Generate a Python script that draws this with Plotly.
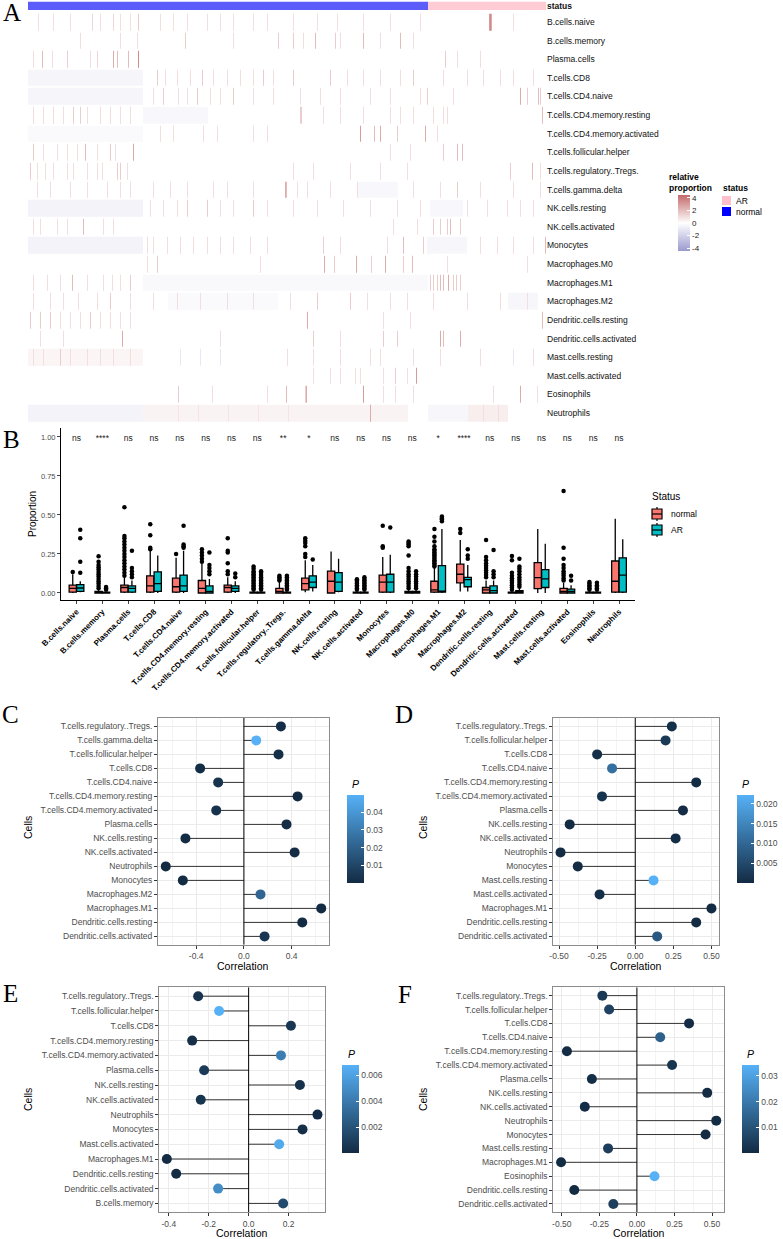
import plotly.graph_objects as go

W, H = 783, 1239


def px(x):
    return x / W


def py(y):
    return 1 - y / H


FONT = "Liberation Sans"
SERIF = "Liberation Serif"

# ---------------- panel A data ----------------
heat_rows = ["B.cells.naive", "B.cells.memory", "Plasma.cells", "T.cells.CD8", "T.cells.CD4.naive",
             "T.cells.CD4.memory.resting", "T.cells.CD4.memory.activated", "T.cells.follicular.helper",
             "T.cells.regulatory..Tregs.", "T.cells.gamma.delta", "NK.cells.resting", "NK.cells.activated",
             "Monocytes", "Macrophages.M0", "Macrophages.M1", "Macrophages.M2", "Dendritic.cells.resting",
             "Dendritic.cells.activated", "Mast.cells.resting", "Mast.cells.activated", "Eosinophils",
             "Neutrophils"]
n_normal = 400
n_ar = 118

# background blocks per row: (first column, last column, value)
heat_base = [
    [], [], [],
    [(0, 115, -0.45)],
    [(0, 115, -0.45)],
    [(115, 180, -0.3)],
    [(0, 115, -0.2)],
    [], [],
    [(330, 370, -0.3)],
    [(0, 115, -0.55), (402, 435, -0.3)],
    [],
    [(0, 115, -0.55), (399, 439, -0.35)],
    [],
    [(115, 400, -0.25)],
    [(140, 250, -0.2), (480, 510, -0.35)],
    [], [],
    [(0, 115, 0.3)],
    [], [],
    [(0, 115, -0.55), (115, 380, 0.35), (400, 440, -0.35), (440, 480, 0.5)],
]

# stripes per row: (column, value)
heat_stripes = [
    [(10, 1), (25, 1), (42, 1), (64, 1.2), (72, 1), (85, 1.2), (92, 1), (102, 1), (110, 1.5), (132, 1),
     (145, 1), (159, 1), (179, 1), (192, 1), (205, 1), (225, 1), (239, 1), (265, 1), (289, 1), (309, 1),
     (335, 1), (362, 1), (392, 1), (461, 3), (462, 3.5), (463, 2.5), (485, 1)],
    [(52, 1), (92, 1), (109, 1), (157, 1.5), (205, 1), (250, 1.5), (265, 1.5), (275, 1), (287, 2),
     (307, 1.5), (312, 1), (335, 2), (352, 1), (372, 2), (385, 1)],
    [(5, 1), (14, 2), (24, 1), (39, 1.5), (62, 1), (69, 1.2), (85, 2.5), (89, 2), (100, 2), (110, 3.5),
     (417, 1.5), (429, 1), (452, 1)],
    [(129, 1.5), (137, 1), (149, 1), (162, 1), (174, 1.5), (185, 1), (199, 1), (212, 1), (225, 1),
     (235, 1.5), (245, 1), (265, 1.5), (302, 1.5), (319, 1), (335, 1), (352, 1), (372, 1), (385, 1.5),
     (415, 1), (439, 1), (455, 1), (472, 1), (485, 1), (505, 1)],
    [(125, 1), (135, 1.5), (150, 1), (159, 1), (169, 1.5), (182, 1), (192, 1), (205, 1.5), (225, 1),
     (245, 1), (272, 1), (292, 1), (312, 1), (342, 1), (362, 1), (392, 1), (399, 1.5), (425, 1),
     (492, 2.5), (499, 1.5), (510, 2), (512, 1.5)],
    [(5, 1), (15, 1), (25, 1), (35, 1), (45, 1.5), (52, 1.5), (59, 1), (72, 1), (82, 1), (92, 1),
     (102, 1), (272, 1.5), (273, 1.5), (295, 1), (312, 1), (335, 1), (362, 1), (372, 1), (385, 1),
     (405, 1), (415, 1), (419, 1), (514, 2)],
    [(132, 1), (145, 1), (175, 1), (189, 1), (225, 1), (239, 1), (332, 3), (346, 2), (352, 2.5),
     (369, 1.5), (397, 2.5), (409, 1)],
    [(5, 1.5), (15, 1), (29, 1), (39, 1), (49, 1), (57, 2), (69, 1), (82, 1.5), (87, 1), (105, 2.5),
     (362, 1), (382, 1), (415, 1.5), (429, 2), (434, 2)],
    [(2, 1.5), (9, 1), (17, 1), (25, 1), (39, 1), (45, 1), (59, 1), (69, 1), (74, 1), (89, 1.5),
     (92, 1.5), (99, 1), (265, 1), (285, 1), (322, 1), (352, 1), (379, 1), (482, 1.5), (504, 2),
     (512, 1)],
    [(9, 1), (22, 1), (42, 1), (59, 1), (79, 1), (92, 1), (102, 1), (125, 1), (142, 1), (159, 1),
     (185, 1), (199, 1), (225, 1), (257, 2.5), (258, 2), (269, 1), (279, 1), (302, 1), (329, 1),
     (385, 1), (412, 1), (429, 1.5), (452, 1), (485, 1), (512, 1)],
    [(122, 1), (135, 1), (149, 1), (159, 1.5), (179, 1.5), (192, 1), (205, 1), (225, 1.5), (239, 1),
     (265, 1), (289, 1), (315, 1), (342, 1), (369, 1), (392, 1), (439, 1), (459, 1), (479, 1),
     (492, 1), (505, 1)],
    [(5, 1), (12, 1), (29, 1), (39, 1), (55, 2), (75, 1), (85, 1), (365, 1), (389, 1), (405, 1.5),
     (412, 1.5), (419, 1.5), (422, 2), (432, 1.5)],
    [(119, 1), (125, 1), (139, 1), (152, 1), (165, 1), (179, 1), (192, 1), (205, 1), (222, 1),
     (239, 1), (295, 1.5), (312, 1), (359, 1), (375, 2), (395, 1.5), (452, 1), (469, 1), (485, 1),
     (505, 1), (517, 2)],
    [(119, 1), (129, 1.5), (232, 1), (296, 2.5), (306, 1.5), (328, 2.5), (343, 1.5), (357, 2.5),
     (375, 1.5), (384, 2), (419, 1), (499, 1)],
    [(5, 1), (19, 1), (32, 1), (44, 2), (59, 1), (75, 1), (84, 1), (92, 1), (102, 1.5), (402, 1.5),
     (405, 1.5), (409, 1.5), (412, 2), (415, 2), (420, 2.5), (425, 1.5), (428, 1.5), (432, 1.5)],
    [(5, 1), (22, 1), (35, 1), (50, 1), (69, 1), (82, 1.5), (102, 1), (125, 1), (149, 1), (172, 1),
     (199, 1), (225, 1), (262, 1), (289, 1.5), (322, 1.5), (339, 1), (362, 1), (379, 1), (405, 1),
     (439, 1), (472, 1), (499, 1)],
    [(2, 1.5), (12, 1.5), (22, 1.5), (32, 1), (42, 1), (52, 1), (62, 1.5), (72, 1), (82, 1), (92, 1),
     (102, 1), (279, 2.5), (355, 1), (382, 1), (514, 2)],
    [(12, 1), (35, 1), (94, 2.5), (192, 1), (285, 1.5), (312, 1), (355, 1.5), (369, 1.5), (412, 2.5),
     (415, 2), (432, 2.5)],
    [(5, 1), (15, 1), (32, 1.5), (42, 1), (59, 1), (72, 1), (85, 1), (102, 1), (152, -1), (172, -1),
     (192, -1), (259, 1), (285, 1), (312, 1), (342, 1), (352, 1), (385, 1), (412, 1), (452, 1),
     (485, -1), (505, 1)],
    [(285, 1), (302, 1), (312, 1), (327, 1), (332, 1), (355, 1), (367, 1.5), (379, 1), (388, 3)],
    [(150, 1.5), (184, 1), (239, 1), (258, 2), (277, 1.5), (278, 2.5), (335, 3), (355, 1), (367, 1),
     (385, 1), (465, 1), (492, 2.5), (509, 1)],
    [(342, 2.5), (150, 0.8), (170, 0.8), (200, 0.8), (230, 0.8), (260, 0.8), (455, 1), (470, 1)],
]

# ---------------- panel B data ----------------
box_cats = heat_rows
sig_labels = ["ns", "****", "ns", "ns", "ns", "ns", "ns", "ns", "**", "*", "ns", "ns", "ns", "ns", "*",
              "****", "ns", "ns", "ns", "ns", "ns", "ns"]

normal_low = [0, 0, 0, 0, 0, 0, 0, 0, 0, 0.005, 0, 0, 0, 0, 0, 0.01, 0, 0, 0, 0, 0, 0]
normal_q1 = [0.005, 0, 0.005, 0.005, 0.005, 0, 0.005, 0, 0, 0.02, 0, 0, 0.005, 0, 0.005, 0.065, 0, 0,
             0.028, 0, 0, 0.005]
normal_med = [0.03, 0.002, 0.035, 0.045, 0.04, 0.03, 0.035, 0.001, 0.01, 0.06, 0.075, 0.001, 0.07, 0.002,
              0.02, 0.12, 0.02, 0.001, 0.098, 0.01, 0.001, 0.075]
normal_q3 = [0.05, 0.01, 0.05, 0.11, 0.095, 0.08, 0.05, 0.005, 0.03, 0.095, 0.14, 0.005, 0.115, 0.01,
             0.075, 0.185, 0.035, 0.005, 0.195, 0.03, 0.005, 0.205]
normal_high = [0.12, 0.02, 0.1, 0.27, 0.225, 0.19, 0.1, 0.01, 0.07, 0.21, 0.265, 0.01, 0.23, 0.02, 0.16,
               0.34, 0.08, 0.01, 0.41, 0.065, 0.01, 0.475]
normal_out = [
    [0.135],
    [0.03, 0.045, 0.06, 0.075, 0.09, 0.105, 0.12, 0.135, 0.15, 0.165, 0.18, 0.2, 0.235],
    [0.11, 0.13, 0.15, 0.17, 0.19, 0.21, 0.23, 0.25, 0.27, 0.29, 0.31, 0.33, 0.35, 0.365, 0.55],
    [0.28, 0.29, 0.37, 0.44],
    [0.25],
    [0.2, 0.22, 0.24, 0.26, 0.28],
    [0.12, 0.14, 0.19, 0.26, 0.27, 0.35],
    [0.02, 0.03, 0.04, 0.05, 0.06, 0.07, 0.08, 0.09, 0.1, 0.11, 0.12, 0.13, 0.14, 0.155, 0.17],
    [0.08, 0.09, 0.1, 0.11],
    [0.23, 0.25, 0.3, 0.32, 0.335, 0.35],
    [],
    [0.02, 0.03, 0.04, 0.05, 0.06, 0.07, 0.08, 0.088],
    [0.29, 0.3, 0.43],
    [0.03, 0.045, 0.06, 0.075, 0.09, 0.105, 0.12, 0.14, 0.16, 0.24, 0.3, 0.31, 0.32, 0.33],
    [0.17, 0.18, 0.19, 0.2, 0.21, 0.22, 0.23, 0.24, 0.25, 0.26, 0.27, 0.28, 0.3, 0.33, 0.36, 0.41],
    [0.385, 0.41],
    [0.1, 0.115, 0.13, 0.145, 0.16, 0.175, 0.19, 0.21, 0.23, 0.34],
    [0.02, 0.035, 0.05, 0.065, 0.08, 0.095, 0.11, 0.13, 0.21, 0.237],
    [],
    [0.08, 0.095, 0.11, 0.125, 0.14, 0.16, 0.18, 0.22, 0.29, 0.654],
    [0.02, 0.03, 0.04, 0.05, 0.06, 0.07],
    [],
]

ar_low = [0.005, 0, 0, 0, 0, 0, 0, 0, 0, 0.01, 0.005, 0, 0, 0, 0, 0.01, 0, 0, 0, 0, 0, 0]
ar_q1 = [0.01, 0, 0.005, 0.01, 0.01, 0, 0.01, 0, 0, 0.035, 0.01, 0, 0.005, 0, 0.005, 0.04, 0, 0, 0.035,
         0, 0, 0.005]
ar_med = [0.032, 0.001, 0.03, 0.06, 0.045, 0.01, 0.03, 0.001, 0.001, 0.07, 0.07, 0.001, 0.07, 0.002, 0.01,
          0.085, 0.015, 0.005, 0.09, 0.01, 0.001, 0.115]
ar_q3 = [0.053, 0.005, 0.045, 0.135, 0.115, 0.045, 0.045, 0.005, 0.005, 0.11, 0.13, 0.005, 0.12, 0.01,
         0.175, 0.1, 0.045, 0.015, 0.15, 0.025, 0.005, 0.225]
ar_high = [0.075, 0.01, 0.08, 0.24, 0.27, 0.09, 0.075, 0.01, 0.01, 0.18, 0.22, 0.01, 0.245, 0.02, 0.41,
           0.18, 0.08, 0.03, 0.315, 0.05, 0.01, 0.345]
ar_out = [
    [0.13, 0.2, 0.35, 0.405],
    [0.02, 0.03, 0.038],
    [0.1, 0.12, 0.14, 0.16, 0.27],
    [],
    [0.29, 0.3, 0.31, 0.43],
    [0.12, 0.14, 0.16, 0.18, 0.26],
    [0.1, 0.125],
    [0.02, 0.03, 0.04, 0.05, 0.06, 0.07, 0.08, 0.09, 0.1, 0.115, 0.13, 0.14],
    [0.02, 0.03, 0.04, 0.05, 0.06, 0.07, 0.08, 0.09, 0.1, 0.11],
    [0.215],
    [],
    [0.02, 0.03, 0.04, 0.05, 0.06, 0.07, 0.08, 0.09, 0.1],
    [0.42],
    [0.03, 0.045, 0.06, 0.075, 0.09, 0.105, 0.12, 0.14],
    [0.46, 0.47, 0.475, 0.48, 0.49],
    [0.22, 0.24, 0.28],
    [0.1, 0.12, 0.14, 0.275],
    [0.04, 0.055, 0.07, 0.085, 0.1, 0.12, 0.14, 0.155, 0.17, 0.22],
    [],
    [0.08, 0.11],
    [0.02, 0.03, 0.04, 0.05, 0.065],
    [],
]
prop_ticks = [0, 0.25, 0.5, 0.75, 1.0]
prop_ticktext = ["0.00", "0.25", "0.50", "0.75", "1.00"]

# ---------------- panels C-F data ----------------
c_cells = ["T.cells.regulatory..Tregs.", "T.cells.gamma.delta", "T.cells.follicular.helper", "T.cells.CD8",
           "T.cells.CD4.naive", "T.cells.CD4.memory.resting", "T.cells.CD4.memory.activated", "Plasma.cells",
           "NK.cells.resting", "NK.cells.activated", "Neutrophils", "Monocytes", "Macrophages.M2",
           "Macrophages.M1", "Dendritic.cells.resting", "Dendritic.cells.activated"]
c_corr = [0.31, 0.103, 0.29, -0.367, -0.216, 0.45, -0.232, 0.357, -0.49, 0.425, -0.655, -0.512, 0.139,
          0.648, 0.489, 0.173]
c_p = [0.0012, 0.0497, 0.0015, 0.0008, 0.003, 0.0003, 0.0025, 0.0006, 0.0002, 0.0004, 0.00001, 0.0002,
       0.022, 0.00001, 0.0002, 0.004]

d_cells = ["T.cells.regulatory..Tregs.", "T.cells.follicular.helper", "T.cells.CD8", "T.cells.CD4.naive",
           "T.cells.CD4.memory.resting", "T.cells.CD4.memory.activated", "Plasma.cells", "NK.cells.resting",
           "NK.cells.activated", "Neutrophils", "Monocytes", "Mast.cells.resting", "Mast.cells.activated",
           "Macrophages.M1", "Dendritic.cells.resting", "Dendritic.cells.activated"]
d_corr = [0.24, 0.199, -0.25, -0.152, 0.40, -0.218, 0.313, -0.43, 0.265, -0.49, -0.377, 0.12, -0.234,
          0.50, 0.40, 0.144]
d_p = [0.0008, 0.0025, 0.0007, 0.0115, 0.00002, 0.0015, 0.0002, 0.00003, 0.0004, 0.00001, 0.00005, 0.0222,
       0.0006, 0.00001, 0.00002, 0.0075]

e_cells = ["T.cells.regulatory..Tregs.", "T.cells.follicular.helper", "T.cells.CD8",
           "T.cells.CD4.memory.resting", "T.cells.CD4.memory.activated", "Plasma.cells", "NK.cells.resting",
           "NK.cells.activated", "Neutrophils", "Monocytes", "Mast.cells.activated", "Macrophages.M1",
           "Dendritic.cells.resting", "Dendritic.cells.activated", "B.cells.memory"]
e_corr = [-0.253, -0.148, 0.212, -0.283, 0.162, -0.223, 0.257, -0.24, 0.345, 0.27, 0.153, -0.41, -0.363,
          -0.153, 0.173]
e_p = [0.0004, 0.0068, 0.0006, 0.0002, 0.0042, 0.0008, 0.0003, 0.0005, 0.00003, 0.0002, 0.0064, 0.00001,
       0.00002, 0.005, 0.0016]

f_cells = ["T.cells.regulatory..Tregs.", "T.cells.follicular.helper", "T.cells.CD8", "T.cells.CD4.naive",
           "T.cells.CD4.memory.resting", "T.cells.CD4.memory.activated", "Plasma.cells", "NK.cells.resting",
           "NK.cells.activated", "Neutrophils", "Monocytes", "Mast.cells.resting", "Macrophages.M1",
           "Eosinophils", "Dendritic.cells.resting", "Dendritic.cells.activated"]
f_corr = [-0.23, -0.185, 0.347, 0.155, -0.466, 0.234, -0.30, 0.468, -0.347, 0.528, 0.457, -0.192, -0.505,
          0.117, -0.417, -0.157]
f_p = [0.0035, 0.006, 0.0003, 0.0135, 0.00002, 0.0025, 0.0008, 0.00002, 0.0003, 0.00001, 0.00002, 0.0045,
       0.00001, 0.0342, 0.00004, 0.005]

c_xticks, c_xtext = [-0.4, 0.0, 0.4], ["-0.4", "0.0", "0.4"]
d_xticks, d_xtext = [-0.5, -0.25, 0.0, 0.25, 0.5], ["-0.50", "-0.25", "0.00", "0.25", "0.50"]
e_xticks, e_xtext = [-0.4, -0.2, 0.0, 0.2], ["-0.4", "-0.2", "0.0", "0.2"]
f_xticks, f_xtext = d_xticks, d_xtext
c_pticks, c_ptext = [0.01, 0.02, 0.03, 0.04], ["0.01", "0.02", "0.03", "0.04"]
d_pticks, d_ptext = [0.005, 0.010, 0.015, 0.020], ["0.005", "0.010", "0.015", "0.020"]
e_pticks, e_ptext = [0.002, 0.004, 0.006], ["0.002", "0.004", "0.006"]
f_pticks, f_ptext = [0.01, 0.02, 0.03], ["0.01", "0.02", "0.03"]

# ---------------- build figure ----------------
fig = go.Figure()

n_cols = n_normal + n_ar
z = []
for base, stripes in zip(heat_base, heat_stripes):
    row = [0.0] * n_cols
    for a, b, v in base:
        for k in range(a, min(b, n_cols)):
            row[k] = v
    for col, v in stripes:
        row[col] = v
    z.append(row)

heat_scale = [[0, "#9a9ad0"], [0.5, "#ffffff"], [1, "#c46a6a"]]
fig.add_trace(go.Heatmap(
    z=z, x=list(range(n_cols)), y=heat_rows, zmin=-4.45, zmax=4.45, colorscale=heat_scale, ygap=2,
    xaxis="x", yaxis="y", hoverinfo="skip",
    colorbar=dict(x=px(678), xanchor="left", y=py(195), yanchor="top", len=56, lenmode="pixels",
                  thickness=12, thicknessmode="pixels", outlinewidth=0, xpad=0, ypad=0,
                  tickvals=[4, 2, 0, -2, -4], ticktext=["4", "2", "0", "-2", "-4"],
                  ticks="inside", tickcolor="white", ticklen=3,
                  tickfont=dict(family=FONT, size=8, color="#222"))))

status_z = [[0] * n_normal + [1] * n_ar]
fig.add_trace(go.Heatmap(
    z=status_z, x=list(range(n_cols)), y=["status"], zmin=0, zmax=1, xgap=0.15,
    colorscale=[[0, "#4040fa"], [0.5, "#4040fa"], [0.5, "#ffc4cf"], [1, "#ffc4cf"]],
    showscale=False, xaxis="x2", yaxis="y2", hoverinfo="skip"))

# panel B boxes
pos_n = [i + 1 - 0.145 for i in range(len(box_cats))]
pos_a = [i + 1 + 0.145 for i in range(len(box_cats))]
for pos, low, q1, med, q3, high, outs, col in [
        (pos_n, normal_low, normal_q1, normal_med, normal_q3, normal_high, normal_out, "#F8766D"),
        (pos_a, ar_low, ar_q1, ar_med, ar_q3, ar_high, ar_out, "#00BFC4")]:
    fig.add_trace(go.Box(x=pos, q1=q1, median=med, q3=q3, lowerfence=low, upperfence=high,
                         fillcolor=col, line=dict(color="black", width=1.3), width=0.28, whiskerwidth=0,
                         xaxis="x3", yaxis="y3", showlegend=False, hoverinfo="skip"))
    ox, oy = [], []
    for p, vals in zip(pos, outs):
        ox += [p] * len(vals)
        oy += vals
    fig.add_trace(go.Scatter(x=ox, y=oy, mode="markers", marker=dict(color="black", size=4.5),
                             xaxis="x3", yaxis="y3", showlegend=False, hoverinfo="skip"))

fig.add_trace(go.Scatter(x=list(range(1, len(box_cats) + 1)), y=[0.985] * len(box_cats), text=sig_labels,
                         mode="text", textfont=dict(family=FONT, size=8.5, color="#222"),
                         xaxis="x3", yaxis="y3", showlegend=False, hoverinfo="skip"))

# panels C-F
lolli = [
    ("4", c_cells, c_corr, c_p, c_pticks, c_ptext, 346.7, 795),
    ("5", d_cells, d_corr, d_p, d_pticks, d_ptext, 736.7, 795),
    ("6", e_cells, e_corr, e_p, e_pticks, e_ptext, 342.3, 1065),
    ("7", f_cells, f_corr, f_p, f_pticks, f_ptext, 741.7, 1065),
]
for ax, cells, corr, pv, pticks, ptext, cbx, cby in lolli:
    n = len(cells)
    ypos = [n - i for i in range(n)]
    sx, sy = [], []
    for yy, cc in zip(ypos, corr):
        sx += [0, cc, None]
        sy += [yy, yy, None]
    fig.add_trace(go.Scatter(x=sx, y=sy, mode="lines", line=dict(color="#333333", width=1),
                             xaxis="x" + ax, yaxis="y" + ax, showlegend=False, hoverinfo="skip"))
    fig.add_trace(go.Scatter(x=[0, 0], y=[0.4, n + 0.6], mode="lines", line=dict(color="black", width=1),
                             xaxis="x" + ax, yaxis="y" + ax, showlegend=False, hoverinfo="skip"))
    fig.add_trace(go.Scatter(
        x=corr, y=ypos, mode="markers", xaxis="x" + ax, yaxis="y" + ax, showlegend=False, hoverinfo="skip",
        marker=dict(size=10, color=pv, cmin=min(pv), cmax=max(pv),
                    colorscale=[[0, "#132B43"], [1, "#56B1F7"]],
                    colorbar=dict(x=px(cbx), xanchor="left", y=py(cby), yanchor="top", len=88,
                                  lenmode="pixels", thickness=17, thicknessmode="pixels", outlinewidth=0,
                                  xpad=0, ypad=0, tickvals=pticks, ticktext=ptext,
                                  ticks="inside", tickcolor="white", ticklen=3,
                                  tickfont=dict(family=FONT, size=8.5, color="#4D4D4D")))))

layout = dict(
    width=W, height=H, margin=dict(l=0, r=0, t=0, b=0, pad=0, autoexpand=False),
    paper_bgcolor="white", plot_bgcolor="white",
    font=dict(family=FONT, color="black"),
    xaxis=dict(domain=[px(28), px(546)], range=[-0.5, n_cols - 0.5], visible=False, anchor="y"),
    yaxis=dict(domain=[py(422.3), py(12.7)], autorange="reversed", side="right", showgrid=False,
               zeroline=False, ticks="", anchor="x", tickfont=dict(family=FONT, size=8.5, color="#111")),
    xaxis2=dict(domain=[px(28), px(546)], range=[-0.5, n_cols - 0.5], visible=False, anchor="y2"),
    yaxis2=dict(domain=[py(10), py(1.5)], side="right", showgrid=False, zeroline=False, ticks="",
                anchor="x2", tickfont=dict(family=FONT, size=8.5, color="#111", weight="bold")),
    xaxis3=dict(domain=[px(61), px(634.5)], range=[0.4, len(box_cats) + 0.6], showgrid=False,
                zeroline=False, showline=True, linecolor="black", linewidth=1, ticks="outside", ticklen=3,
                anchor="y3", tickvals=list(range(1, len(box_cats) + 1)), ticktext=box_cats, tickangle=-45,
                tickfont=dict(family=FONT, size=8, color="black", weight="bold")),
    yaxis3=dict(domain=[py(600), py(428)], range=[-0.045, 1.057], showgrid=False, zeroline=False,
                showline=True, linecolor="black", linewidth=1, ticks="outside", ticklen=3, anchor="x3",
                tickvals=prop_ticks, ticktext=prop_ticktext,
                tickfont=dict(family=FONT, size=7.5, color="#4D4D4D")),
)

lolli_dom = {
    "4": ([158, 329], [718, 944.8], c_xticks, c_xtext),
    "5": ([553, 719], [718, 944.8], d_xticks, d_xtext),
    "6": ([159.3, 325], [987.3, 1212.3], e_xticks, e_xtext),
    "7": ([553.3, 724], [987.3, 1212.3], f_xticks, f_xtext),
}
for ax, cells, corr, pv, pticks, ptext, cbx, cby in lolli:
    (x0, x1), (y0, y1), xt, xtt = lolli_dom[ax]
    n = len(cells)
    lo, hi = min(min(corr), 0), max(max(corr), 0)
    pad = (hi - lo) * 0.05
    step = xt[1] - xt[0]
    minor = [v + step / 2 for v in [xt[0] - step] + xt]
    layout["xaxis" + ax] = dict(
        domain=[px(x0), px(x1)], range=[lo - pad, hi + pad], anchor="y" + ax, showgrid=True,
        gridcolor="#EBEBEB", gridwidth=1, zeroline=False, showline=True, mirror=True, linecolor="#8c8c8c",
        linewidth=1, ticks="outside", ticklen=3, tickcolor="#333", tickvals=xt, ticktext=xtt,
        tickfont=dict(family=FONT, size=8.5, color="#4D4D4D"),
        minor=dict(tickvals=minor, showgrid=True, gridcolor="#F4F4F4", gridwidth=0.6, ticks=""))
    layout["yaxis" + ax] = dict(
        domain=[py(y1), py(y0)], range=[0.4, n + 0.6], anchor="x" + ax, showgrid=True, gridcolor="#EBEBEB",
        gridwidth=1, zeroline=False, showline=True, mirror=True, linecolor="#8c8c8c", linewidth=1,
        ticks="outside", ticklen=3, tickcolor="#333", tickvals=[n - i for i in range(n)], ticktext=cells,
        tickfont=dict(family=FONT, size=8.5, color="#4D4D4D"))

fig.update_layout(**layout)

ann = []


def text(x, y, s, size, **kw):
    d = dict(x=px(x), y=py(y), xref="paper", yref="paper", text=s, showarrow=False,
             xanchor="center", yanchor="middle",
             font=dict(family=kw.pop("family", FONT), size=size, color=kw.pop("color", "black")))
    d.update(kw)
    ann.append(d)


# panel letters
for letter, lx, ly in [("A", 12, 13), ("B", 11, 440), ("C", 10, 714), ("D", 404, 714),
                       ("E", 10, 993), ("F", 405, 994)]:
    text(lx, ly, letter, 25, family=SERIF)

# panel A legends
text(667, 177, "<b>relative</b>", 8.5, xanchor="left")
text(667, 188, "<b>proportion</b>", 8.5, xanchor="left")
text(721, 188, "<b>status</b>", 8.5, xanchor="left")
text(734, 201, "AR", 8.5, xanchor="left")
text(734, 212, "normal", 8.5, xanchor="left")

# panel B legend / title
text(32, 514, "Proportion", 10, textangle=-90)
text(650, 497, "Status", 10, xanchor="left")
text(669, 514, "normal", 8.5, xanchor="left")
text(669, 530, "AR", 8.5, xanchor="left")

# panels C-F titles
for cx, cy in [(28, 828), (423, 828), (28, 1100), (423, 1100)]:
    text(cx, cy, "Cells", 10.5, textangle=-90)
for cx, cy in [(243.5, 966), (636, 966), (242, 1233), (638.6, 1233)]:
    text(cx, cy, "Correlation", 10.5)
for cx, cy in [(355, 784), (745, 784), (351, 1054), (750, 1054)]:
    text(cx, cy, "<i>P</i>", 10.5)

shapes = [
    dict(type="rect", xref="paper", yref="paper", x0=px(722), x1=px(731), y0=py(205), y1=py(196),
         fillcolor="#ffc0cb", line=dict(width=0)),
    dict(type="rect", xref="paper", yref="paper", x0=px(722), x1=px(731), y0=py(216), y1=py(207),
         fillcolor="#0000ff", line=dict(width=0)),
]
for cy, col in [(514, "#F8766D"), (530, "#00BFC4")]:
    shapes.append(dict(type="line", xref="paper", yref="paper", x0=px(657), x1=px(657), y0=py(cy + 7),
                       y1=py(cy - 7), line=dict(color="black", width=1.2)))
    shapes.append(dict(type="rect", xref="paper", yref="paper", x0=px(652), x1=px(662), y0=py(cy + 5),
                       y1=py(cy - 5), fillcolor=col, line=dict(color="black", width=1.2)))
    shapes.append(dict(type="line", xref="paper", yref="paper", x0=px(652), x1=px(662), y0=py(cy),
                       y1=py(cy), line=dict(color="black", width=1.2)))

fig.update_layout(annotations=ann, shapes=shapes)
fig.write_html("out.html", config={"displayModeBar": False},
               post_script="document.body.style.margin='0';")
